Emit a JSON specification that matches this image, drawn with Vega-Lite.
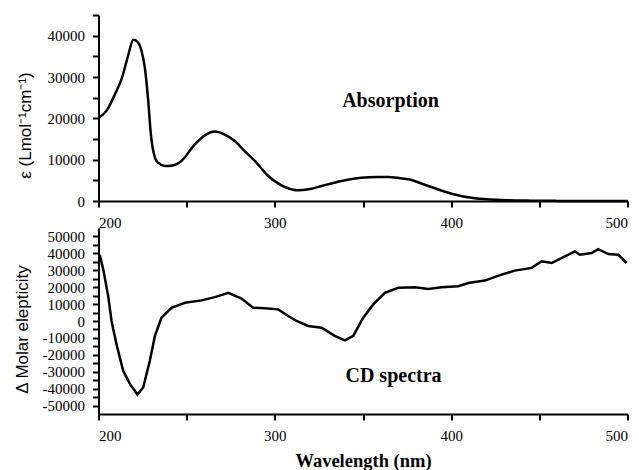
{
  "$schema": "https://vega.github.io/schema/vega-lite/v6.json",
  "padding": {"left": 12.5, "top": 14, "right": 5, "bottom": 5},
  "bounds": "flush",
  "spacing": 27,
  "background": "white",
  "config": {
    "view": {"stroke": null},
    "axis": {"domain": true, "ticks": true, "grid": false, "domainColor": "#000000", "domainWidth": 2, "tickColor": "#000000", "tickWidth": 2, "tickSize": 6, "labelFont": "Liberation Serif", "labelFontSize": 15, "labelColor": "#000000", "labelPadding": 8},
    "axisX": {"domain": true, "ticks": true},
    "axisY": {"domain": true, "ticks": true}
  },
  "datasets": {
    "absorption": [
      {"nm": 200, "v": 20100}, {"nm": 204.5, "v": 21800}, {"nm": 209.3, "v": 25800}, {"nm": 213.3, "v": 29800},
      {"nm": 217, "v": 35500}, {"nm": 219.7, "v": 39000}, {"nm": 222.5, "v": 38300}, {"nm": 224.4, "v": 36300},
      {"nm": 226.3, "v": 32200}, {"nm": 228.2, "v": 24200}, {"nm": 229.7, "v": 16100}, {"nm": 232, "v": 10500},
      {"nm": 233.8, "v": 9270}, {"nm": 237.6, "v": 8470}, {"nm": 242, "v": 8600}, {"nm": 247, "v": 9680},
      {"nm": 254.6, "v": 13700}, {"nm": 260, "v": 15800}, {"nm": 266, "v": 16800}, {"nm": 271, "v": 16200},
      {"nm": 277.3, "v": 14500}, {"nm": 283, "v": 12000}, {"nm": 288.7, "v": 9680}, {"nm": 296.3, "v": 6050},
      {"nm": 305.7, "v": 3390}, {"nm": 313.3, "v": 2590}, {"nm": 320, "v": 2900}, {"nm": 326.5, "v": 3630},
      {"nm": 337.8, "v": 4840}, {"nm": 349, "v": 5640}, {"nm": 358, "v": 5800}, {"nm": 364.3, "v": 5800},
      {"nm": 370, "v": 5600}, {"nm": 375.7, "v": 5250}, {"nm": 387, "v": 3630}, {"nm": 400.2, "v": 1770},
      {"nm": 413.4, "v": 650}, {"nm": 428.6, "v": 240}, {"nm": 445, "v": 80}, {"nm": 460, "v": 30},
      {"nm": 480, "v": 20}, {"nm": 500, "v": 10}
    ],
    "cd": [
      {"nm": 200.7, "v": 39200}, {"nm": 202.7, "v": 30400}, {"nm": 205.5, "v": 14700}, {"nm": 207.4, "v": 0},
      {"nm": 210.2, "v": -13700}, {"nm": 214, "v": -29400}, {"nm": 217.8, "v": -37200}, {"nm": 222.1, "v": -43500},
      {"nm": 225.4, "v": -39200}, {"nm": 229.1, "v": -23500}, {"nm": 232, "v": -8800}, {"nm": 235.7, "v": 1940},
      {"nm": 241.4, "v": 7800}, {"nm": 249, "v": 10800}, {"nm": 258.4, "v": 12200}, {"nm": 266, "v": 14100},
      {"nm": 273.6, "v": 16600}, {"nm": 281.1, "v": 13300}, {"nm": 287.7, "v": 7800}, {"nm": 294.3, "v": 7470},
      {"nm": 301.9, "v": 6880}, {"nm": 307.6, "v": 2940}, {"nm": 312.3, "v": 0}, {"nm": 318.9, "v": -2940},
      {"nm": 326.5, "v": -3940}, {"nm": 334, "v": -8820}, {"nm": 339.7, "v": -11400}, {"nm": 344.5, "v": -8820},
      {"nm": 350.1, "v": 1960}, {"nm": 355.8, "v": 9800}, {"nm": 362.4, "v": 16600}, {"nm": 370, "v": 19600},
      {"nm": 379.4, "v": 20000}, {"nm": 387, "v": 19000}, {"nm": 394.6, "v": 20000}, {"nm": 404, "v": 20600},
      {"nm": 409.7, "v": 22500}, {"nm": 419.1, "v": 23900}, {"nm": 428.6, "v": 27400}, {"nm": 436.1, "v": 29800},
      {"nm": 445.7, "v": 31400}, {"nm": 451.3, "v": 35300}, {"nm": 457, "v": 34300}, {"nm": 464.5, "v": 38200},
      {"nm": 470.2, "v": 41200}, {"nm": 473, "v": 39200}, {"nm": 479.6, "v": 40200}, {"nm": 483.4, "v": 42500},
      {"nm": 489.1, "v": 39600}, {"nm": 494.8, "v": 39200}, {"nm": 499.5, "v": 34300}
    ],
    "labelsTop": [{"nm": 365.6, "v": 24200, "label": "Absorption"}],
    "labelsBottom": [{"nm": 367.3, "v": -32400, "label": "CD spectra"}]
  },
  "vconcat": [
    {
      "width": 529,
      "height": 186,
      "encoding": {
        "x": {
          "field": "nm", "type": "quantitative",
          "scale": {"domain": [200, 500], "nice": false, "zero": false},
          "axis": {
            "title": null, "domain": true, "ticks": true,
            "domainColor": "#000000", "domainWidth": 2, "tickColor": "#000000", "tickWidth": 2, "tickSize": 6,
            "labelColor": "#000000", "labelFont": "Liberation Serif", "labelFontSize": 15, "labelPadding": 8, "grid": false,
            "values": [200, 250, 300, 350, 400, 450, 500],
            "labelExpr": "datum.value % 100 === 0 ? '' + datum.value : ''"
          }
        },
        "y": {
          "field": "v", "type": "quantitative",
          "scale": {"domain": [0, 45000], "nice": false},
          "axis": {
            "title": "ε (Lmol⁻¹cm⁻¹)", "titleColor": "#000000",
            "titleFont": "Liberation Sans", "titleFontSize": 17, "titleFontWeight": "normal",
            "titleX": -73, "titleY": 110, "titleAngle": -90, "titleAlign": "center", "titleBaseline": "middle",
            "domain": true, "ticks": true, "domainColor": "#000000", "domainWidth": 2, "tickColor": "#000000", "tickWidth": 2, "tickSize": 6,
            "labelColor": "#000000", "labelFont": "Liberation Serif", "labelFontSize": 15, "labelPadding": 8, "grid": false,
            "values": [0, 5000, 10000, 15000, 20000, 25000, 30000, 35000, 40000, 45000],
            "labelExpr": "datum.value % 10000 === 0 ? '' + datum.value : ''"
          }
        }
      },
      "layer": [
        {
          "data": {"name": "absorption"},
          "mark": {"type": "line", "color": "black", "strokeWidth": 2.5, "interpolate": "monotone"}
        },
        {
          "data": {"name": "labelsTop"},
          "mark": {"type": "text", "font": "Liberation Serif", "fontSize": 20, "fontWeight": "bold", "color": "black", "align": "center", "baseline": "middle"},
          "encoding": {"text": {"field": "label"}}
        }
      ]
    },
    {
      "width": 529,
      "height": 186,
      "encoding": {
        "x": {
          "field": "nm", "type": "quantitative",
          "scale": {"domain": [200, 500], "nice": false, "zero": false},
          "axis": {
            "title": "Wavelength (nm)", "titleColor": "#000000",
            "titleFont": "Liberation Serif", "titleFontSize": 18.5, "titleFontWeight": "bold", "titlePadding": 8,
            "domain": true, "ticks": true, "domainColor": "#000000", "domainWidth": 2, "tickColor": "#000000", "tickWidth": 2, "tickSize": 6,
            "labelColor": "#000000", "labelFont": "Liberation Serif", "labelFontSize": 15, "labelPadding": 8, "grid": false,
            "values": [200, 250, 300, 350, 400, 450, 500],
            "labelExpr": "datum.value % 100 === 0 ? '' + datum.value : ''"
          }
        },
        "y": {
          "field": "v", "type": "quantitative",
          "scale": {"domain": [-55000, 55000], "nice": false},
          "axis": {
            "title": "Δ Molar elepticity", "titleColor": "#000000",
            "titleFont": "Liberation Sans", "titleFontSize": 17, "titleFontWeight": "normal",
            "titleX": -76, "titleY": 101, "titleAngle": -90, "titleAlign": "center", "titleBaseline": "middle",
            "domain": true, "ticks": true, "domainColor": "#000000", "domainWidth": 2, "tickColor": "#000000", "tickWidth": 2, "tickSize": 6,
            "labelColor": "#000000", "labelFont": "Liberation Serif", "labelFontSize": 15, "labelPadding": 8, "grid": false,
            "values": [-50000, -45000, -40000, -35000, -30000, -25000, -20000, -15000, -10000, -5000, 0, 5000, 10000, 15000, 20000, 25000, 30000, 35000, 40000, 45000, 50000],
            "labelExpr": "datum.value % 10000 === 0 ? '' + datum.value : ''"
          }
        }
      },
      "layer": [
        {
          "mark": {"type": "rule", "color": "black", "strokeWidth": 1},
          "encoding": {"y": {"datum": 0}, "x": null}
        },
        {
          "data": {"name": "cd"},
          "mark": {"type": "line", "color": "black", "strokeWidth": 2.5}
        },
        {
          "data": {"name": "labelsBottom"},
          "mark": {"type": "text", "font": "Liberation Serif", "fontSize": 20, "fontWeight": "bold", "color": "black", "align": "center", "baseline": "middle"},
          "encoding": {"text": {"field": "label"}}
        }
      ]
    }
  ]
}
